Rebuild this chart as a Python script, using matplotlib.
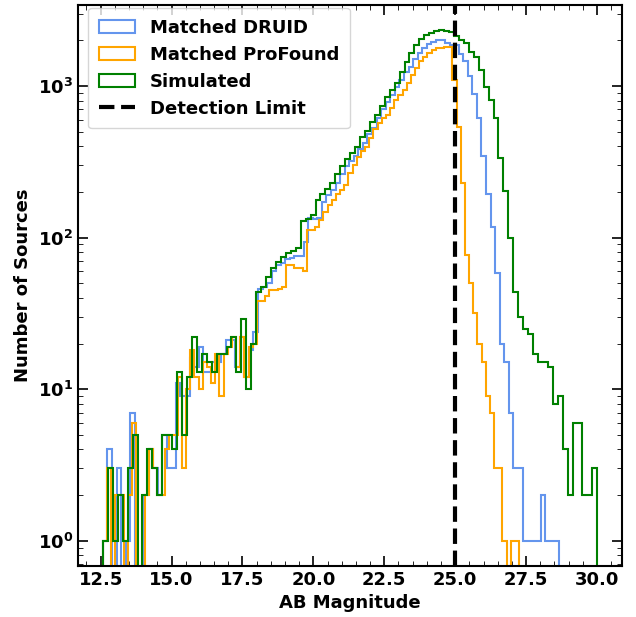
import numpy as np
import matplotlib
matplotlib.use("Agg")
import matplotlib.pyplot as plt

# bin ranges (each sample binned with 100 bins over its own min/max)
druid_range = (12.58, 28.66)
profound_range = (12.58, 27.25)
sim_range = (12.58, 30.01)

druid_counts = [
    1, 4, 0, 3, 0, 1, 7, 0, 0, 2,
    4, 3, 2, 5, 3, 3, 11, 9, 9, 16,
    14, 19, 13, 13, 15, 15, 17, 21, 21, 14,
    22, 12, 18, 24, 46, 47, 50, 60, 66, 68,
    72, 73, 75, 76, 94, 135, 132, 134, 172, 190,
    206, 228, 262, 297, 320, 345, 385, 422, 480, 525,
    610, 701, 780, 871, 990, 1100, 1230, 1340, 1500, 1640,
    1780, 1900, 1960, 2000, 2010, 1928, 1862, 1862, 1616, 1459,
    1162, 881, 611, 347, 194, 118, 58, 20, 15, 7,
    3, 3, 1, 1, 1, 1, 2, 1, 1, 1,
]

profound_counts = [
    1, 3, 0, 2, 2, 0, 2, 6, 0, 0,
    2, 4, 3, 2, 2, 4, 5, 5, 12, 3,
    10, 18, 12, 10, 15, 14, 11, 17, 9, 17,
    19, 22, 14, 22, 12, 19, 20, 38, 38, 41,
    45, 45, 46, 47, 66, 66, 63, 63, 60, 112,
    112, 118, 130, 148, 165, 177, 195, 205, 222, 268,
    300, 341, 370, 398, 450, 520, 567, 610, 643, 720,
    807, 870, 940, 1050, 1180, 1320, 1450, 1560, 1640, 1720,
    1770, 1790, 1815, 1815, 1094, 533, 230, 77, 50, 32,
    20, 15, 9, 7, 3, 3, 1, 0, 1, 1,
]

sim_counts = [
    1, 3, 1, 2, 1, 3, 5, 0, 2, 4,
    3, 2, 5, 5, 4, 13, 5, 12, 22, 13,
    17, 15, 13, 17, 17, 19, 22, 13, 29, 10,
    20, 44, 47, 55, 63, 69, 74, 79, 82, 85,
    128, 132, 141, 178, 195, 209, 229, 263, 295, 331,
    363, 398, 457, 501, 575, 646, 741, 851, 933, 1047,
    1230, 1445, 1660, 1862, 2042, 2163, 2239, 2317, 2344, 2317,
    2265, 2143, 2009, 1910, 1683, 1559, 1273, 988, 807, 611,
    333, 204, 100, 44, 30, 25, 23, 17, 15, 15,
    14, 8, 9, 4, 2, 6, 6, 2, 2, 3,
]

detection_limit = 25.0

plt.rcParams['font.weight'] = 'bold'
plt.rcParams['axes.labelweight'] = 'bold'

fig = plt.figure(figsize=(6.36, 6.17), dpi=100)
ax = fig.add_subplot()
fig.subplots_adjust(left=0.123, right=0.978, bottom=0.083, top=0.992)

series = [
    (druid_range, druid_counts, 'cornflowerblue', 'Matched DRUID'),
    (profound_range, profound_counts, 'orange', 'Matched ProFound'),
    (sim_range, sim_counts, 'green', 'Simulated'),
]
for rng, counts, col, lab in series:
    edges = np.linspace(rng[0], rng[1], len(counts) + 1)
    ax.hist(edges[:-1], bins=edges, weights=counts, histtype='step',
            color=col, lw=1.5, label=lab, log=True)

ax.axvline(detection_limit, color='k', ls='--', lw=3, label='Detection Limit')

ax.set_xlim(11.71, 30.88)
ax.set_ylim(0.684, 3420)
ax.set_xlabel('AB Magnitude', fontsize=13)
ax.set_ylabel('Number of Sources', fontsize=13)
ax.set_xticks([12.5, 15.0, 17.5, 20.0, 22.5, 25.0, 27.5, 30.0])
ax.minorticks_on()
ax.tick_params(which='both', direction='in', top=True, right=True, labelsize=13)
ax.tick_params(which='major', length=7, width=1.2)
ax.tick_params(which='minor', length=3.5)
for s in ax.spines.values():
    s.set_linewidth(1.5)

ax.legend(loc='upper left', bbox_to_anchor=(0.0184, 0.995), borderaxespad=0,
          borderpad=0.6, prop={'weight': 'bold', 'size': 13})

fig.savefig('out.png', dpi=100)
